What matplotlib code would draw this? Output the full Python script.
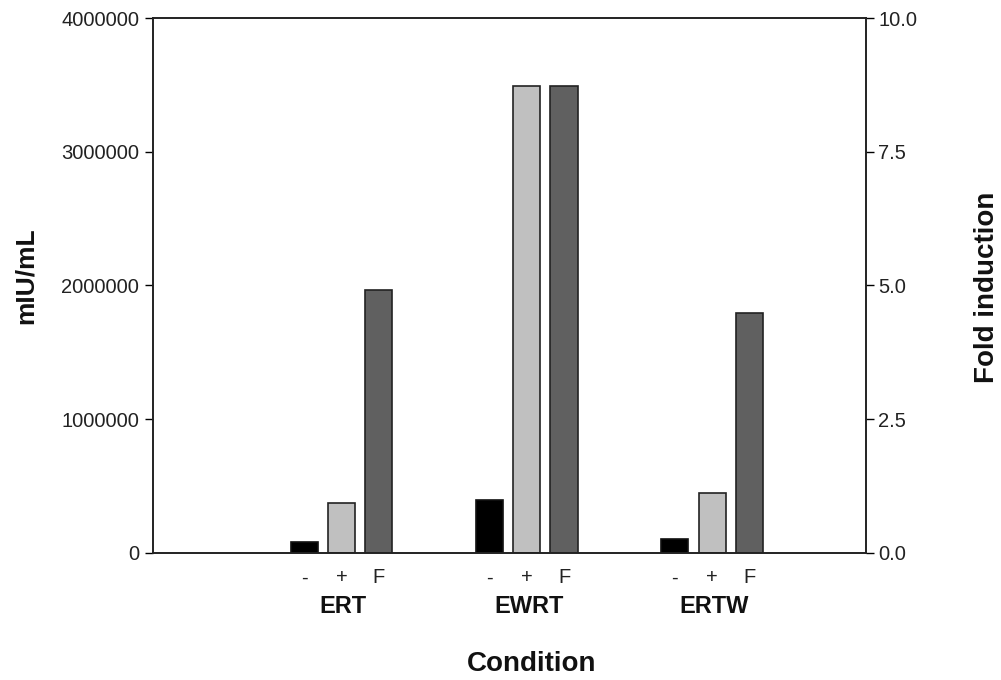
import numpy as np
import matplotlib.pyplot as plt
from matplotlib.ticker import FormatStrFormatter
import matplotlib.transforms as mtransforms

plt.rcParams['font.family'] = ['Liberation Sans', 'DejaVu Sans']

groups = ['ERT', 'EWRT', 'ERTW']
conds = ['-', '+', 'F']
minus = [82000, 396000, 105000]       # mIU/mL
plus = [374000, 3490000, 447000]      # mIU/mL
fold = [4.91, 8.73, 4.49]             # fold induction (right axis)

fig = plt.figure(figsize=(10.01, 6.8), dpi=100)
ax = fig.add_axes([0.1528, 0.1868, 0.7123, 0.7867])
ax2 = ax.twinx()

x = np.arange(len(groups))
off = 0.201
w = 0.146
ax.bar(x - off, minus, w, color='black', edgecolor='#111111', linewidth=1.2)
ax.bar(x, plus, w, color='#c0c0c0', edgecolor='#222222', linewidth=1.2)
ax2.bar(x + off, fold, w, color='#606060', edgecolor='#222222', linewidth=1.2)

ax.set_xlim(-1.018, 2.831)
ax.set_ylim(0, 4000000)
ax2.set_ylim(0, 10)
ax.set_yticks([0, 1000000, 2000000, 3000000, 4000000])
ax.ticklabel_format(axis='y', style='plain', useOffset=False)
ax2.set_yticks([0, 2.5, 5, 7.5, 10])
ax2.yaxis.set_major_formatter(FormatStrFormatter('%.1f'))

pos = np.concatenate([x - off, x, x + off])
labs = [conds[0]] * 3 + [conds[1]] * 3 + [conds[2]] * 3
ax.set_xticks(pos)
ax.set_xticklabels(labs)
ax.tick_params(axis='x', length=0, pad=11, labelsize=14.5, labelcolor='#222222')
ax.tick_params(axis='y', length=6, width=1, labelsize=14.5, labelcolor='#222222', pad=4)
ax2.tick_params(axis='y', length=6, width=1, labelsize=14.5, labelcolor='#222222', pad=3)

for a in (ax, ax2):
    for s in a.spines.values():
        s.set_linewidth(1.2)
        s.set_color('#222222')

trans = mtransforms.blended_transform_factory(ax.transData, ax.transAxes)
for i, g in enumerate(groups):
    ax.text(x[i] + 0.01, -0.1, g, transform=trans, ha='center', va='center',
            fontsize=17, fontweight='bold', color='#111111')

fig.text(0.531, 1 - 664 / 680, 'Condition', ha='center', va='center',
         fontsize=20, fontweight='bold', color='#111111')
fig.text(0.026, 1 - 276 / 680, 'mIU/mL', ha='center', va='center',
         rotation=90, fontsize=19, fontweight='bold', color='#111111')
fig.text(0.986, 1 - 287 / 680, 'Fold induction', ha='center', va='center',
         rotation=90, fontsize=20, fontweight='bold', color='#111111')

fig.savefig('out.png', dpi=100)
